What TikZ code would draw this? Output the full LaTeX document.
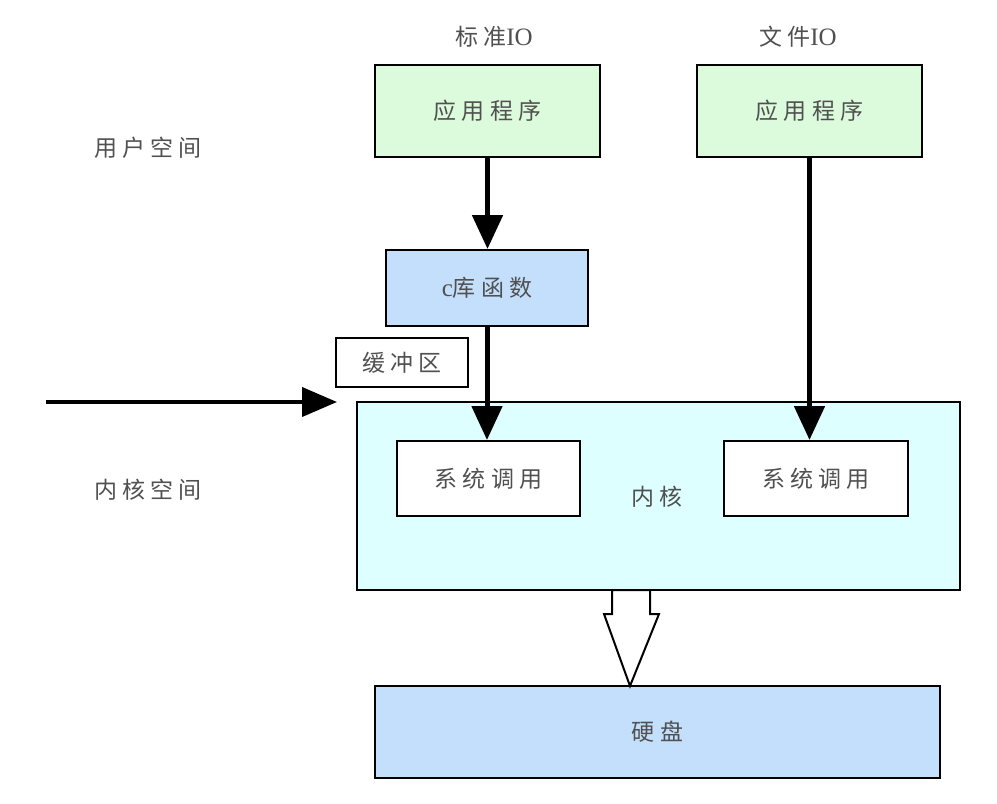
\documentclass[tikz,border=0pt]{standalone}
\usepackage{fontspec}
\setmainfont{Liberation Serif}
\newfontfamily\cjk[LetterSpace=22]{Noto Sans CJK SC}
\usetikzlibrary{arrows.meta}
\definecolor{appgreen}{HTML}{DCFADC}
\definecolor{libblue}{HTML}{C3DFFB}
\definecolor{kerncyan}{HTML}{DEFFFF}
\definecolor{txtgray}{HTML}{505050}
\newcommand{\latin}[1]{{\rmfamily\fontsize{25}{26}\selectfont #1}}
\begin{document}
\begin{tikzpicture}[x=1pt,y=-1pt,line width=2pt]
			\tikzset{box/.style={draw, inner sep=0pt, text=txtgray, font=\fontsize{23}{26}\selectfont\cjk},
				label/.style={inner sep=0pt, text=txtgray, font=\fontsize{23}{26}\selectfont\cjk},
				flow/.style={line width=5pt, -{Triangle[length=34pt,width=30pt]}}}
			\useasboundingbox (0,0) rectangle (997,804);
			% user space
			\node[label] (stdio) at (494,37) {标准\latin{IO}};
			\node[label] (fileio) at (798,37) {文件\latin{IO}};
			\node[label] (user) at (148,148) {用户空间};
			\node[box, fill=appgreen, minimum width=225pt, minimum height=92pt] (appl) at (487.5,111) {应用程序};
			\node[box, fill=appgreen, minimum width=225pt, minimum height=92pt] (appr) at (809.5,111) {应用程序};
			\node[box, fill=libblue, minimum width=202pt, minimum height=76pt] (clib) at (487,288) {\latin{c}库函数};
			\node[box, fill=white, minimum width=132pt, minimum height=49pt] (buf) at (402,362.5) {缓冲区};
			% kernel space
			\node[label] (kspace) at (148,490) {内核空间};
			\node[box, fill=kerncyan, minimum width=603pt, minimum height=188pt] (kern) at (658.5,496) {};
			\node[label] (kname) at (657,497) {内核};
			\node[box, fill=white, minimum width=183pt, minimum height=75pt] (sysl) at (488.5,478.5) {系统调用};
			\node[box, fill=white, minimum width=184pt, minimum height=75pt] (sysr) at (816,478.5) {系统调用};
			\node[box, fill=libblue, minimum width=565pt, minimum height=92pt] (disk) at (657.5,732) {硬盘};
			% arrows
			\coordinate (from) at (46,402);
			\coordinate (to) at (337,402);
			\foreach \a/\b in {appl/clib, clib/sysl, appr/sysr}
			\draw [flow] (\a.south) -- (\a.south |- \b.north);
			\draw [line width=4pt, -{Triangle[length=35pt,width=29pt]}] (from) -- (to);
			\draw [fill=white] (612,590) -- (650,590) -- (650,614) -- (659,614) -- (630,686) -- (604,614) -- (612,614) -- cycle;
			\end{tikzpicture}
\end{document}
